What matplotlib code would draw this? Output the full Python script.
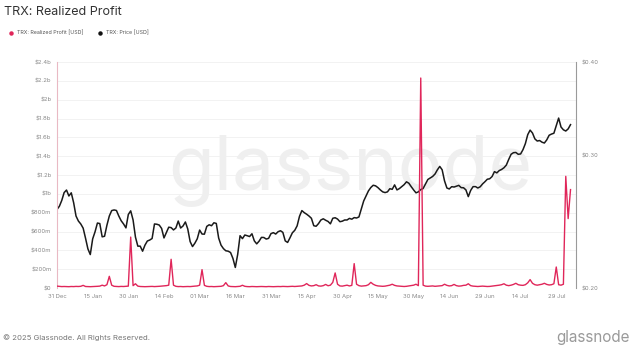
import matplotlib
matplotlib.use("Agg")
import matplotlib.pyplot as plt
import matplotlib.dates as mdates
from matplotlib.lines import Line2D
from matplotlib.ticker import FuncFormatter, FixedLocator, NullLocator
import pandas as pd

plt.rcParams["font.family"] = ["Inter", "DejaVu Sans"]

# daily series starting 31 Dec 2024
start_date = "2024-12-31"

# TRX price [USD]
price = [
    0.2545, 0.2570, 0.2616, 0.2680, 0.2701, 0.2652, 0.2678, 0.2598, 0.2494, 0.2456,
    0.2434, 0.2403, 0.2330, 0.2255, 0.2216, 0.2325, 0.2376, 0.2441, 0.2437, 0.2340,
    0.2344, 0.2425, 0.2494, 0.2536, 0.2541, 0.2537, 0.2494, 0.2458, 0.2434, 0.2405,
    0.2506, 0.2534, 0.2464, 0.2338, 0.2274, 0.2274, 0.2239, 0.2281, 0.2310, 0.2317,
    0.2328, 0.2434, 0.2432, 0.2426, 0.2401, 0.2332, 0.2370, 0.2410, 0.2407, 0.2390,
    0.2404, 0.2456, 0.2404, 0.2419, 0.2449, 0.2397, 0.2306, 0.2271, 0.2295, 0.2326,
    0.2389, 0.2360, 0.2359, 0.2416, 0.2428, 0.2421, 0.2443, 0.2438, 0.2331, 0.2281,
    0.2257, 0.2242, 0.2239, 0.2230, 0.2190, 0.2130, 0.2217, 0.2348, 0.2327, 0.2353,
    0.2348, 0.2342, 0.2362, 0.2311, 0.2290, 0.2309, 0.2336, 0.2335, 0.2324, 0.2329,
    0.2363, 0.2370, 0.2360, 0.2377, 0.2384, 0.2372, 0.2311, 0.2300, 0.2333, 0.2369,
    0.2387, 0.2420, 0.2492, 0.2536, 0.2520, 0.2508, 0.2494, 0.2477, 0.2421, 0.2417,
    0.2437, 0.2464, 0.2473, 0.2462, 0.2453, 0.2435, 0.2477, 0.2481, 0.2471, 0.2451,
    0.2455, 0.2464, 0.2464, 0.2476, 0.2470, 0.2482, 0.2479, 0.2487, 0.2549, 0.2612,
    0.2653, 0.2694, 0.2722, 0.2741, 0.2736, 0.2721, 0.2702, 0.2686, 0.2680, 0.2686,
    0.2712, 0.2707, 0.2744, 0.2702, 0.2713, 0.2730, 0.2746, 0.2770, 0.2758, 0.2729,
    0.2702, 0.2678, 0.2686, 0.2705, 0.2714, 0.2752, 0.2790, 0.2803, 0.2816, 0.2837,
    0.2874, 0.2904, 0.2874, 0.2778, 0.2718, 0.2710, 0.2729, 0.2726, 0.2733, 0.2740,
    0.2721, 0.2720, 0.2702, 0.2647, 0.2698, 0.2729, 0.2730, 0.2718, 0.2728, 0.2752,
    0.2771, 0.2792, 0.2796, 0.2815, 0.2858, 0.2847, 0.2867, 0.2877, 0.2892, 0.2916,
    0.2967, 0.3014, 0.3029, 0.3031, 0.3014, 0.3017, 0.3057, 0.3114, 0.3201, 0.3246,
    0.3217, 0.3160, 0.3139, 0.3144, 0.3128, 0.3120, 0.3150, 0.3195, 0.3207, 0.3215,
    0.3292, 0.3368, 0.3277, 0.3249, 0.3237, 0.3258, 0.3301,
]

# realized profit [USD, millions]
profit_m = [
    20, 18, 15, 16, 15, 14, 16, 15, 17, 16,
    18, 28, 16, 15, 14, 15, 16, 18, 20, 30,
    22, 35, 124, 30, 18, 16, 15, 17, 16, 18,
    20, 541, 25, 45, 20, 16, 15, 14, 15, 16,
    17, 15, 16, 18, 20, 22, 25, 30, 305, 30,
    18, 15, 16, 14, 15, 16, 15, 18, 20, 22,
    30, 195, 28, 18, 15, 16, 14, 15, 16, 18,
    25, 57, 22, 16, 15, 14, 16, 18, 29, 18,
    15, 14, 16, 15, 14, 15, 16, 15, 14, 16,
    15, 14, 15, 16, 15, 17, 16, 15, 16, 18,
    16, 18, 20, 22, 30, 47, 28, 22, 25, 35,
    22, 20, 25, 38, 24, 30, 60, 160, 40, 22,
    20, 25, 30, 22, 28, 259, 40, 25, 20, 22,
    25, 35, 60, 40, 28, 22, 20, 18, 20, 25,
    30, 40, 28, 22, 20, 18, 16, 18, 22, 25,
    30, 40, 25, 2230, 30, 20, 18, 20, 22, 18,
    20, 22, 25, 40, 28, 22, 25, 38, 25, 20,
    22, 28, 30, 45, 25, 20, 18, 16, 18, 20,
    18, 16, 17, 20, 22, 25, 30, 35, 45, 30,
    25, 30, 38, 50, 35, 30, 28, 35, 55, 89,
    50, 35, 30, 35, 40, 50, 38, 32, 35, 45,
    223, 35, 30, 40, 1186, 737, 1045,
]

profit_ticks = [0, 0.2e9, 0.4e9, 0.6e9, 0.8e9, 1.0e9, 1.2e9, 1.4e9, 1.6e9, 1.8e9, 2.0e9, 2.2e9, 2.4e9]
price_ticks = [0.20, 0.30, 0.40]

RED = "#e0265a"
GREY_TXT = "#8a8a8a"

dates = pd.date_range(start_date, periods=len(price), freq="D")
profit = [v * 1e6 for v in profit_m]


def fmt_usd(v, _pos=None):
    if v == 0:
        return "$0"
    if v >= 1e9:
        return f"${v / 1e9:g}b"
    return f"${v / 1e6:g}m"


fig = plt.figure(figsize=(6.39, 3.56), dpi=100)
ax2 = fig.add_axes([0.0892, 0.191, 0.8122, 0.6348])   # price (behind)
ax = ax2.twinx()                                          # profit (front)
ax.yaxis.tick_left()
ax2.yaxis.tick_right()

# grid + watermark sit on the back axes
ax2.set_facecolor("white")
ax2.text(0.565, 0.52, "glassnode", transform=ax2.transAxes, ha="center", va="center",
         fontsize=54, color="#efefef", zorder=0)

ax2.plot(dates, price, color="#1a1a1a", lw=1.1, zorder=3)
ax.plot(dates, profit, color=RED, lw=1.0, zorder=3)

ax.set_ylim(0, 2.4e9)
ax.yaxis.set_major_locator(FixedLocator(profit_ticks))
ax.yaxis.set_major_formatter(FuncFormatter(fmt_usd))

# grid lines at the profit ticks, drawn behind the price line
for t in profit_ticks[1:]:
    ax2.axhline(0.2 * 2 ** (t / 2.4e9), color="#f0f0f0", lw=0.6, zorder=1)

ax2.set_yscale("log")
ax2.set_ylim(0.2, 0.4)
ax2.yaxis.set_major_locator(FixedLocator(price_ticks))
ax2.yaxis.set_minor_locator(NullLocator())
ax2.yaxis.set_major_formatter(FuncFormatter(lambda v, p: f"${v:.2f}"))

ax2.set_xlim(dates[0], dates[0] + pd.Timedelta(days=218.3))
ax2.set_xticks(pd.date_range(start_date, periods=15, freq="15D"))
ax2.xaxis.set_major_formatter(mdates.DateFormatter("%d %b"))

for a in (ax, ax2):
    a.tick_params(length=0, labelsize=4.3, colors=GREY_TXT, pad=4)
    for s in ("top", "bottom"):
        a.spines[s].set_visible(False)
ax.spines["left"].set_color("#e9b9c4")
ax.spines["left"].set_linewidth(0.8)
ax.spines["right"].set_visible(False)
ax2.spines["left"].set_visible(False)
ax2.spines["right"].set_color("#9a9a9a")
ax2.spines["right"].set_linewidth(0.8)

fig.text(0.007, 0.965, "TRX: Realized Profit", fontsize=9, color="#333333", va="center")

handles = [
    Line2D([], [], marker="o", ls="", color=RED, markersize=2.2, label="TRX: Realized Profit [USD]"),
    Line2D([], [], marker="o", ls="", color="#111111", markersize=2.2, label="TRX: Price [USD]"),
]
fig.legend(handles=handles, loc="center left", bbox_to_anchor=(0.002, 0.908), ncol=2,
           frameon=False, fontsize=3.8, handletextpad=0.1, columnspacing=2.2, labelcolor="#555555")

fig.text(0.005, 0.053, "\u00a9 2025 Glassnode. All Rights Reserved.", fontsize=5.6, color="#777777", va="center")
fig.text(0.985, 0.053, "glassnode", fontsize=11, color="#9a9a9a", ha="right", va="center")

fig.savefig("out.png", dpi=100)
